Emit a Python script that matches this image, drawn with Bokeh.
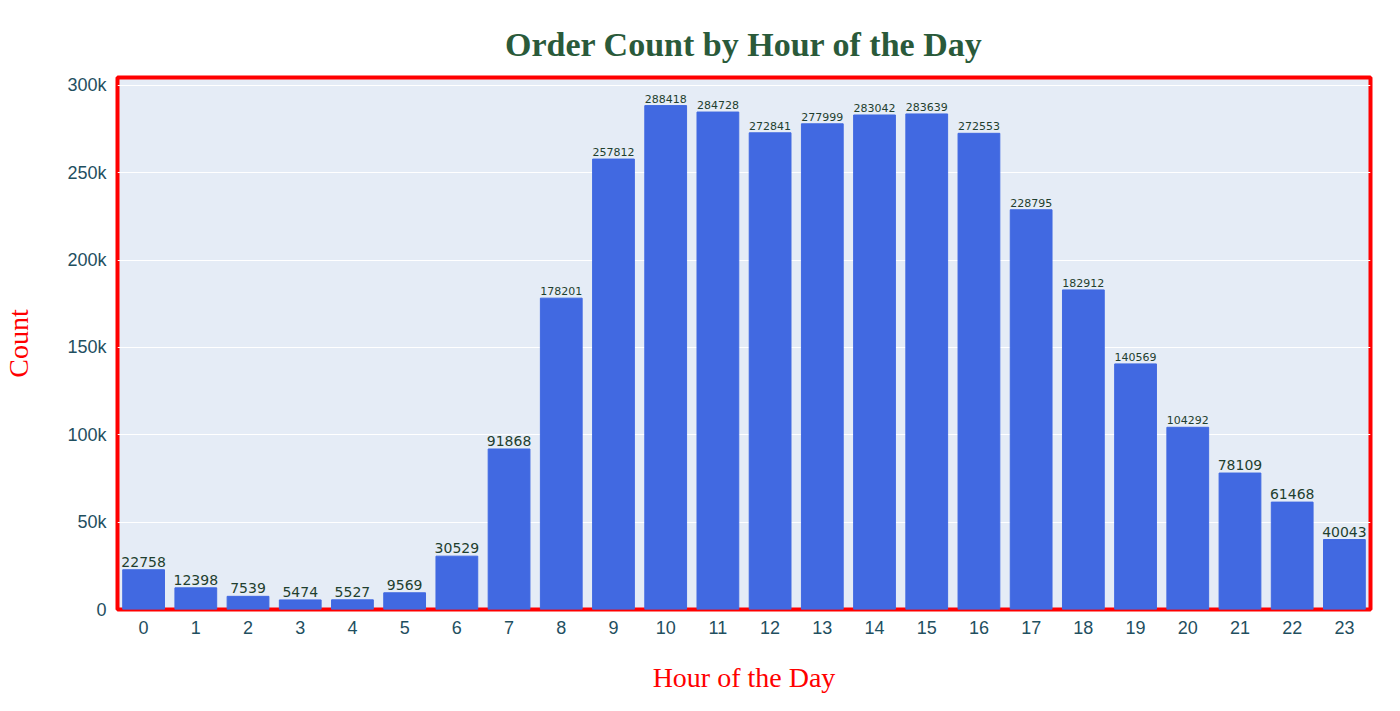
from bokeh.plotting import figure
from bokeh.models import ColumnDataSource, NumeralTickFormatter, FixedTicker, Range1d
from bokeh.core.properties import value
from bokeh.embed import file_html
from bokeh.resources import INLINE

hours = list(range(24))
counts = [22758, 12398, 7539, 5474, 5527, 9569, 30529, 91868, 178201, 257812,
          288418, 284728, 272841, 277999, 283042, 283639, 272553, 228795,
          182912, 140569, 104292, 78109, 61468, 40043]

labels = [str(c) for c in counts]
src = ColumnDataSource(data=dict(hour=hours, count=counts, label=labels))
big = ColumnDataSource(data=dict(
    hour=[h for h, c in zip(hours, counts) if c < 100000],
    count=[c for c in counts if c < 100000],
    label=[str(c) for c in counts if c < 100000]))
small = ColumnDataSource(data=dict(
    hour=[h for h, c in zip(hours, counts) if c >= 100000],
    count=[c for c in counts if c >= 100000],
    label=[str(c) for c in counts if c >= 100000]))

p = figure(width=1384, height=695, output_backend="svg", toolbar_location=None,
           x_range=Range1d(-0.5, 23.5), y_range=Range1d(0, 304500),
           min_border_left=112, min_border_right=14, min_border_top=77,
           min_border_bottom=83)

p.title.text = "Order Count by Hour of the Day"
p.title.align = "center"
p.title.text_font = "Liberation Serif"
p.title.text_font_size = "34px"
p.title.text_color = "#2a5a3a"
p.title.standoff = 30

p.background_fill_color = "#E5ECF6"
p.outline_line_color = "red"
p.outline_line_width = 4

p.vbar(x="hour", top="count", width=0.8, source=src, color="royalblue")
p.text(x="hour", y="count", text="label", source=big, text_align="center",
       text_baseline="bottom", y_offset=-3, text_font_size="14px",
       text_color="#1f3f2f", text_font=value("DejaVu Sans"))
p.text(x="hour", y="count", text="label", source=small, text_align="center",
       text_baseline="bottom", y_offset=-3, text_font_size="11px",
       text_color="#1f3f2f", text_font=value("DejaVu Sans"))

p.xaxis.ticker = FixedTicker(ticks=hours)
p.yaxis.ticker = FixedTicker(ticks=[0, 50000, 100000, 150000, 200000, 250000, 300000])
p.yaxis.formatter = NumeralTickFormatter(format="0a")
for ax in (p.xaxis, p.yaxis):
    ax.axis_line_color = None
    ax.major_tick_line_color = None
    ax.minor_tick_line_color = None
    ax.major_label_text_font_size = "18px"
    ax.major_label_text_color = "#1f4f5f"
    ax.axis_label_text_font = "Liberation Serif"
    ax.axis_label_text_font_size = "28px"
    ax.axis_label_text_color = "red"
    ax.axis_label_text_font_style = "normal"
p.xaxis.axis_label = "Hour of the Day"
p.yaxis.axis_label = "Count"
p.xaxis.axis_label_standoff = 25
p.yaxis.axis_label_standoff = 30
p.xgrid.grid_line_color = None
p.ygrid.grid_line_color = "white"

open("out.html", "w").write(file_html(p, INLINE))
